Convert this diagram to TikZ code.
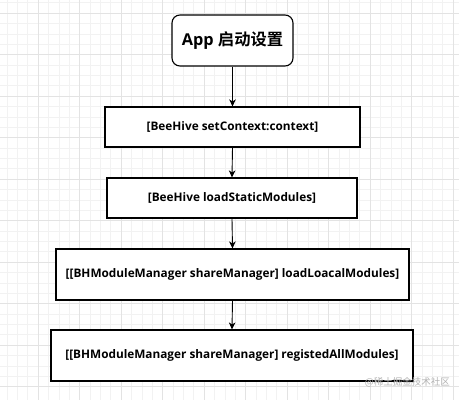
\documentclass[tikz,border=0pt]{standalone}
\usepackage{fontspec}
\setmainfont{Open Sans}[BoldFont={Open Sans Bold}]
\newfontfamily\cjk{Noto Sans CJK SC}[BoldFont={Noto Sans CJK SC Bold}]
\usetikzlibrary{arrows.meta}
\begin{document}
\begin{tikzpicture}[x=1pt,y=-1pt,
  stepbox/.style={draw=black,line width=1.1pt,fill=white,inner sep=0pt,font=\bfseries\fontsize{11.8}{13}\selectfont},
  flow/.style={draw=black,line width=0.9pt,-{Stealth[length=7pt,width=6.5pt,inset=2pt]}},
  minorgrid/.style={draw=black!5,line width=0.5pt},
  majorgrid/.style={draw=black!11,line width=0.7pt}]
\useasboundingbox (0,0) rectangle (459,400);
\fill[white] (0,0) rectangle (459,400);
% grid
\foreach \i in {0,...,45} {
  \draw[minorgrid] ({-3.5+\i*10.375},0) -- ({-3.5+\i*10.375},400);
}
\foreach \i in {0,...,40} {
  \draw[minorgrid] (0,{-28.5+\i*10.375}) -- (459,{-28.5+\i*10.375});
}
\foreach \i in {0,...,11} {
  \draw[majorgrid] ({-3.5+\i*41.5},0) -- ({-3.5+\i*41.5},400);
}
\foreach \i in {0,...,10} {
  \draw[majorgrid] (0,{-28.5+\i*41.5}) -- (459,{-28.5+\i*41.5});
}
% nodes
\node[stepbox,rounded corners=8pt,minimum width=121pt,minimum height=51pt,font=\bfseries\fontsize{16.3}{18}\selectfont] (app) at (232.5,40.5) {App {\cjk\bfseries 启动设置}};
\node[stepbox,minimum width=255pt,minimum height=40pt] (ctx) at (232.5,127) {[BeeHive setContext:context]};
\node[stepbox,minimum width=250pt,minimum height=40pt] (stat) at (232,198) {[BeeHive loadStaticModules]};
\node[stepbox,minimum width=353pt,minimum height=51pt] (loc) at (232.5,274.5) {[[BHModuleManager shareManager] loadLoacalModules]};
\node[stepbox,minimum width=362pt,minimum height=51pt] (reg) at (232,355.5) {[[BHModuleManager shareManager] registedAllModules]};
% connectors
\draw[flow] (app.south) -- (ctx.north);
\draw[flow] (ctx.south) -- (stat.north);
\draw[flow] (stat.south) -- (loc.north);
\draw[flow] (loc.south) -- (reg.north);
% watermark
\node[text=black!30,inner sep=0pt,anchor=east,font=\cjk\fontsize{9.5}{11}\selectfont] (wm) at (450,382) {@稀土掘金技术社区};
\end{tikzpicture}
\end{document}
